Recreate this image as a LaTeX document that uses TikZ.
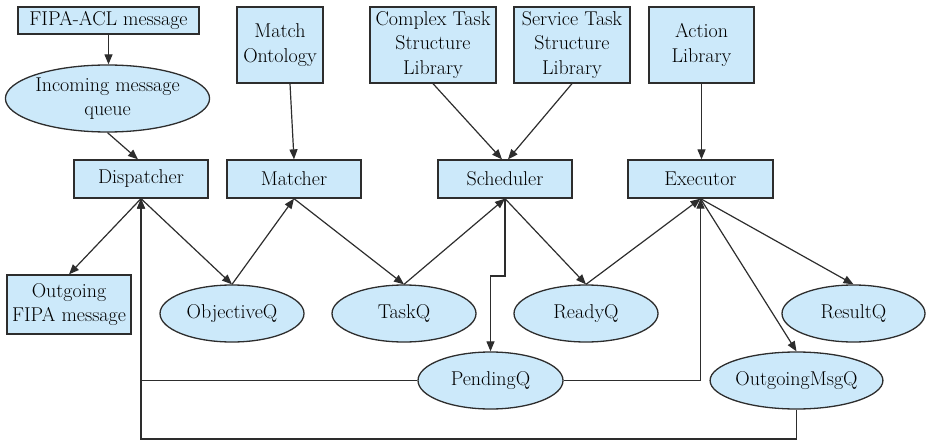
\documentclass[tikz,border=0pt]{standalone}
\usepackage{fontspec}
\usetikzlibrary{shapes.geometric,arrows.meta}
\definecolor{boxfill}{RGB}{204,233,250}
\definecolor{edge}{RGB}{45,45,45}
\tikzset{
  base/.style={draw=edge, line width=1.3pt, fill=boxfill, inner sep=0pt, align=center,
    font=\rmfamily\fontsize{20}{24.5}\selectfont},
  box/.style={base, rectangle},
  oval/.style={base, ellipse},
  conn/.style={draw=edge, line width=1.2pt},
  arr/.style={conn, -{Triangle[length=10pt,width=8pt]}},
}
\begin{document}
\begin{tikzpicture}[x=1pt,y=-1pt]
\useasboundingbox (0,0) rectangle (929,441);
% boxes
\node[box, minimum width=181pt, minimum height=27pt] (fipa) at (108.5,20.5) {FIPA-ACL message};
\node[oval, minimum width=201pt, minimum height=67pt] (inq) at (107.5,98.5) {Incoming message\\queue};
\node[box, minimum width=134pt, minimum height=38pt] (disp) at (141,179) {Dispatcher};
\node[box, minimum width=86pt, minimum height=76pt] (mo) at (280,45) {Match\\Ontology};
\node[box, minimum width=134pt, minimum height=38pt] (match) at (294,179) {Matcher};
\node[box, minimum width=126pt, minimum height=76pt] (cts) at (433,45) {Complex Task\\Structure\\Library};
\node[box, minimum width=116pt, minimum height=76pt] (sts) at (572,45) {Service Task\\Structure\\Library};
\node[box, minimum width=134pt, minimum height=38pt] (sched) at (505,179) {Scheduler};
\node[box, minimum width=105pt, minimum height=76pt] (al) at (701.5,45) {Action\\Library};
\node[box, minimum width=145pt, minimum height=38pt] (exe) at (700.5,179) {Executor};
\node[box, minimum width=124pt, minimum height=59pt] (ofipa) at (69,304.5) {Outgoing\\FIPA message};
% ellipses
\node[oval, minimum width=144pt, minimum height=57pt] (objq) at (232,313.5) {ObjectiveQ};
\node[oval, minimum width=144pt, minimum height=57pt] (taskq) at (404,313.5) {TaskQ};
\node[oval, minimum width=144pt, minimum height=57pt] (readyq) at (586,313.5) {ReadyQ};
\node[oval, minimum width=143pt, minimum height=57pt] (resq) at (853.5,313.5) {ResultQ};
\node[oval, minimum width=145pt, minimum height=57pt] (pq) at (490.5,380.5) {PendingQ};
\node[oval, minimum width=145pt, minimum height=57pt] (omq) at (796.5,380.5) {OutgoingMsgQ};
% top connectors
\draw[arr] (fipa.south) -- (fipa.south |- inq.north);
\draw[arr] (inq.south) -- ([xshift=-3pt]disp.north);
\draw[arr] ([xshift=10pt]mo.south) -- (match.north);
\draw[arr] (cts.south) -- ([xshift=-3pt]sched.north);
\draw[arr] (sts.south) -- ([xshift=3pt]sched.north);
\draw[arr] (al.south) -- (al.south |- exe.north);
% lower connectors
\draw[arr] (disp.south) -- (ofipa.north);
\draw[arr] (disp.south) -- (objq.north);
\draw[arr] (objq.north) -- (match.south);
\draw[arr] (match.south) -- (taskq.north);
\draw[arr] (taskq.north) -- (sched.south);
\draw[arr] (sched.south) -- (readyq.north);
\draw[arr] (readyq.north) -- (exe.south);
\draw[arr] (sched.south) -- (sched.south |- 0,276) -| (pq.north);
\draw[arr] (exe.south) -- (resq.north);
\draw[arr] (exe.south) -- (omq.north);
\draw[arr] (pq.east) -| (exe.south);
\draw[arr] (pq.west) -| (disp.south);
\draw[arr] (omq.south) -- (omq.south |- 0,439) -| (disp.south);
\end{tikzpicture}
\end{document}
